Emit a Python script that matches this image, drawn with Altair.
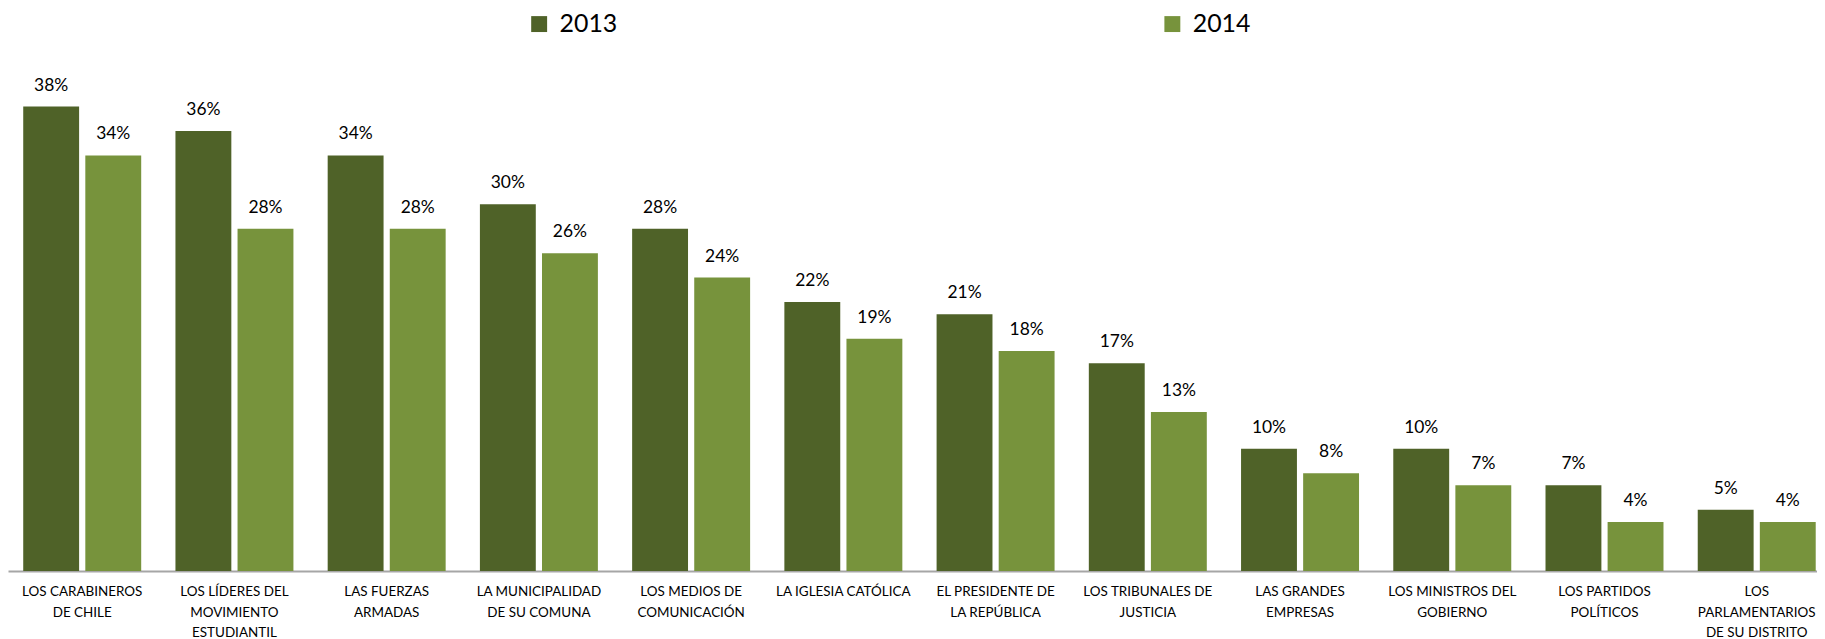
import altair as alt
import pandas as pd

categories = [
    "LOS CARABINEROS|DE CHILE",
    "LOS LÍDERES DEL|MOVIMIENTO|ESTUDIANTIL",
    "LAS FUERZAS|ARMADAS",
    "LA MUNICIPALIDAD|DE SU COMUNA",
    "LOS MEDIOS DE|COMUNICACIÓN",
    "LA IGLESIA CATÓLICA",
    "EL PRESIDENTE DE|LA REPÚBLICA",
    "LOS TRIBUNALES DE|JUSTICIA",
    "LAS GRANDES|EMPRESAS",
    "LOS MINISTROS DEL|GOBIERNO",
    "LOS PARTIDOS|POLÍTICOS",
    "LOS|PARLAMENTARIOS|DE SU DISTRITO",
]
years = ["2013", "2014"]
values_2013 = [38, 36, 34, 30, 28, 22, 21, 17, 10, 10, 7, 5]
values_2014 = [34, 28, 28, 26, 24, 19, 18, 13, 8, 7, 4, 4]
colors = ["#4F6228", "#77933C"]

rows = []
for c, v in zip(categories, values_2013):
    rows.append({"category": c, "year": "2013", "value": v})
for c, v in zip(categories, values_2014):
    rows.append({"category": c, "year": "2014", "value": v})
df = pd.DataFrame(rows)
df["label"] = df["value"].astype(str) + "%"

FONT = "Lato"

x = alt.X(
    "category:N",
    sort=categories,
    scale=alt.Scale(paddingInner=0.225, paddingOuter=0.1, range=[0, 1831]),
    axis=alt.Axis(
        title=None,
        labelExpr="split(datum.label, '|')",
        labelAngle=0,
        labelFont=FONT,
        labelFontSize=13.5,
        labelLineHeight=20.5,
        labelColor="#000000",
        labelPadding=14,
        labelBaseline="top",
        labelLimit=200,
        ticks=False,
        domainColor="#A6A6A6",
        domainWidth=2,
        grid=False,
    ),
)
xoff = alt.XOffset("year:N", sort=years, scale=alt.Scale(paddingInner=0.1, paddingOuter=0))
y = alt.Y("value:Q", scale=alt.Scale(domain=[0, 40], nice=False), axis=None)

bars = alt.Chart(df).mark_bar().encode(
    x=x,
    xOffset=xoff,
    y=y,
    color=alt.Color(
        "year:N",
        sort=years,
        scale=alt.Scale(domain=years, range=colors),
        legend=alt.Legend(
            title=None,
            orient="none",
            direction="horizontal",
            legendX=521,
            legendY=-71,
            symbolType="square",
            symbolSize=256,
            symbolStrokeWidth=0,
            symbolOpacity=1,
            labelFont=FONT,
            labelFontSize=25,
            labelColor="#000000",
            labelOffset=8,
            columnPadding=544,
            padding=0,
        ),
    ),
)

text = alt.Chart(df).mark_text(
    dy=-16, baseline="alphabetic", font=FONT, fontSize=17.5, color="#000000"
).encode(x=x, xOffset=xoff, y=y, text="label:N")

chart = (
    alt.layer(bars, text)
    .properties(
        width=1817,
        height=491,
        autosize=alt.AutoSizeParams(type="none"),
        padding={"left": 0, "top": 73, "right": 0, "bottom": 67},
    )
    .configure_view(stroke=None)
)

chart.save("out.html", embed_options={"renderer": "svg", "actions": False})
